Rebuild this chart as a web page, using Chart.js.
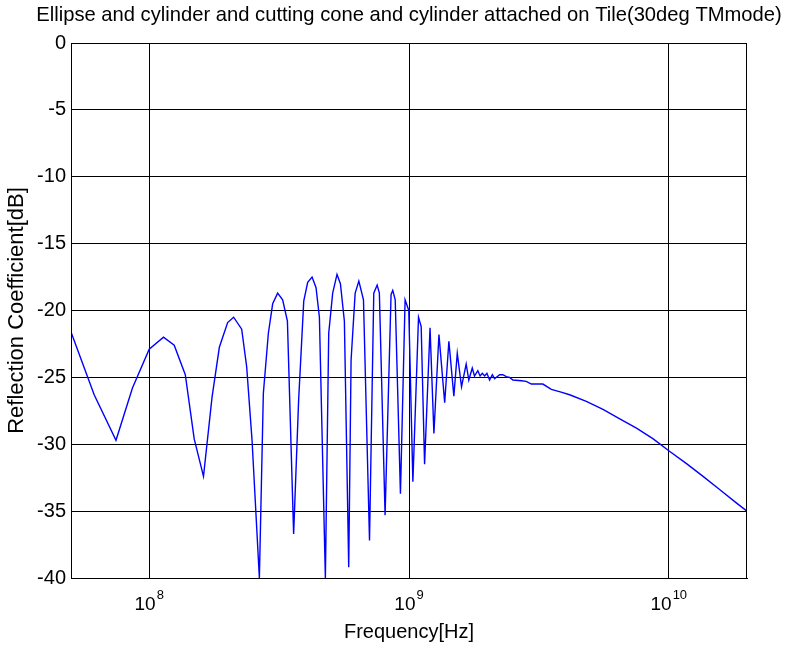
<!DOCTYPE html>
<html>
<head>
<meta charset="utf-8">
<title>Reflection Coefficient</title>
<script src="https://cdn.jsdelivr.net/npm/chart.js@4/dist/chart.umd.min.js"></script>
<style>
    html, body { margin: 0; padding: 0; background: #fff; }
    #grafico { display: block; }
</style>
</head>
<body>
<canvas id="grafico" width="787" height="646"></canvas>
<script>
// Frequências (Hz)
const frequencias = [
    5.0e7, 6.14e7, 7.45e7, 8.62e7, 1.0e8, 1.135e8, 1.248e8, 1.377e8, 1.49e8, 1.618e8,
    1.745e8, 1.862e8, 2.004e8, 2.113e8, 2.27e8, 2.372e8, 2.488e8, 2.655e8, 2.75e8, 2.875e8,
    2.987e8, 3.121e8, 3.263e8, 3.404e8, 3.597e8, 3.76e8, 3.934e8, 4.074e8, 4.236e8, 4.387e8,
    4.52e8, 4.765e8, 4.909e8, 5.084e8, 5.283e8, 5.445e8, 5.64e8, 5.861e8, 5.985e8, 6.205e8,
    6.411e8, 6.68e8, 7.047e8, 7.318e8, 7.54e8, 7.69e8, 8.09e8, 8.53e8, 8.66e8, 8.85e8,
    9.27e8, 9.66e8, 9.98e8, 1.035e9, 1.088e9, 1.114e9, 1.148e9, 1.205e9, 1.247e9, 1.304e9,
    1.372e9, 1.424e9, 1.488e9, 1.534e9, 1.593e9, 1.66e9, 1.699e9, 1.752e9, 1.787e9, 1.84e9,
    1.878e9, 1.915e9, 1.955e9, 1.995e9, 2.043e9, 2.093e9, 2.135e9, 2.233e9, 2.297e9, 2.369e9,
    2.44e9, 2.512e9, 2.705e9, 2.827e9, 2.956e9, 3.275e9, 3.53e9, 3.85e9, 4.152e9, 4.815e9,
    5.58e9, 6.475e9, 7.51e9, 8.71e9, 1.003e10, 1.17e10, 1.355e10, 1.573e10, 1.824e10, 2.0e10
];

// Coeficiente de reflexão (dB)
const reflexaoDb = [
    -21.6, -26.3, -29.7, -25.8, -22.9, -22.0, -22.6, -24.8, -29.6, -32.4,
    -26.5, -22.75, -20.9, -20.5, -21.4, -24.2, -29.7, -40, -26.2, -21.7,
    -19.5, -18.7, -19.2, -20.8, -36.7, -26.7, -19.3, -17.9, -17.5, -18.3,
    -20.5, -40, -21.7, -18.7, -17.3, -18.0, -20.8, -39.2, -23.7, -18.7,
    -17.8, -19.2, -37.2, -18.7, -18.1, -18.7, -35.3, -18.8, -18.5, -19.2,
    -33.7, -19.2, -20.0, -32.8, -20.5, -21.2, -31.5, -21.3, -29.2, -21.8,
    -26.9, -22.3, -26.4, -23.2, -25.7, -24.0, -25.2, -24.3, -24.9, -24.5,
    -24.9, -24.7, -24.9, -24.7, -25.2, -24.8, -25.1, -24.8, -24.8, -24.95,
    -25.0, -25.2, -25.25, -25.3, -25.5, -25.5, -25.9, -26.1, -26.3, -26.8,
    -27.4, -28.1, -28.8, -29.6, -30.5, -31.45, -32.4, -33.4, -34.4, -35.0
];

// Marcas do eixo x (décadas) e seus expoentes
const ticksX = [1e8, 1e9, 1e10];
const expoentesX = ['8', '9', '10'];

const titulo = 'Ellipse and cylinder and cutting cone and cylinder attached on Tile(30deg TMmode)';
const fonte = 'Liberation Sans, Arial, Helvetica, sans-serif';

// Plugin: título, moldura do gráfico e rótulos 10^n do eixo x
const moldura = {
    id: 'moldura',
    afterDraw(chart) {
        const ctx = chart.ctx;
        const a = chart.chartArea;
        const x = chart.scales.x;
        ctx.save();
        ctx.strokeStyle = '#000';
        ctx.lineWidth = 1;
        ctx.strokeRect(a.left + 0.5, a.top + 0.5, a.right - a.left - 1, a.bottom - a.top);

        ctx.fillStyle = '#000';
        ctx.font = '20.2px ' + fonte;
        ctx.textAlign = 'center';
        ctx.textBaseline = 'alphabetic';
        ctx.fillText(titulo, (a.left + a.right) / 2, 21);

        ticksX.forEach(function(v, i) {
            const px = x.getPixelForValue(v);
            ctx.font = '19px ' + fonte;
            const wBase = ctx.measureText('10').width;
            ctx.font = '13px ' + fonte;
            const wExp = ctx.measureText(expoentesX[i]).width;
            const inicio = px - (wBase + wExp + 1) / 2;
            ctx.textAlign = 'left';
            ctx.font = '19px ' + fonte;
            ctx.fillText('10', inicio, 610);
            ctx.font = '13px ' + fonte;
            ctx.fillText(expoentesX[i], inicio + wBase + 1, 599);
        });
        ctx.restore();
    }
};

document.addEventListener('DOMContentLoaded', function() {
    const contexto = document.getElementById('grafico').getContext('2d');

    const dados = {
        datasets: [{
            label: 'Reflection Coefficient',
            data: frequencias.map(function(f, i) { return { x: f, y: reflexaoDb[i] }; }),
            borderColor: '#0000ff',
            borderWidth: 1.4,
            pointRadius: 0,
            tension: 0,
            fill: false
        }]
    };

    const meuGrafico = new Chart(contexto, {
        type: 'line',
        data: dados,
        plugins: [moldura],
        options: {
            responsive: false,
            animation: false,
            layout: { padding: { left: 0, right: 40, top: 43, bottom: 0 } },
            plugins: {
                legend: { display: false },
                tooltip: { enabled: false },
                title: { display: false }
            },
            scales: {
                x: {
                    type: 'logarithmic',
                    min: 5e7,
                    max: 2e10,
                    afterBuildTicks: function(escala) {
                        escala.ticks = ticksX.map(function(v) { return { value: v }; });
                    },
                    afterFit: function(escala) { escala.height = 68; },
                    ticks: { display: false },
                    grid: { color: '#000', lineWidth: 1, drawTicks: false },
                    border: { display: true, color: '#000', width: 1 },
                    title: {
                        display: true,
                        text: 'Frequency[Hz]',
                        color: '#000',
                        font: { family: fonte, size: 20 },
                        padding: { top: 0, bottom: 2 }
                    }
                },
                y: {
                    min: -40,
                    max: 0,
                    afterFit: function(escala) { escala.width = 71; },
                    ticks: {
                        stepSize: 5,
                        color: '#000',
                        padding: 5,
                        font: { family: fonte, size: 20 }
                    },
                    grid: { color: '#000', lineWidth: 1, drawTicks: false },
                    border: { display: true, color: '#000', width: 1 },
                    title: {
                        display: true,
                        text: 'Reflection Coefficient[dB]',
                        color: '#000',
                        font: { family: fonte, size: 22 },
                        padding: { top: 4, bottom: 0 }
                    }
                }
            }
        }
    });
});
</script>
</body>
</html>
